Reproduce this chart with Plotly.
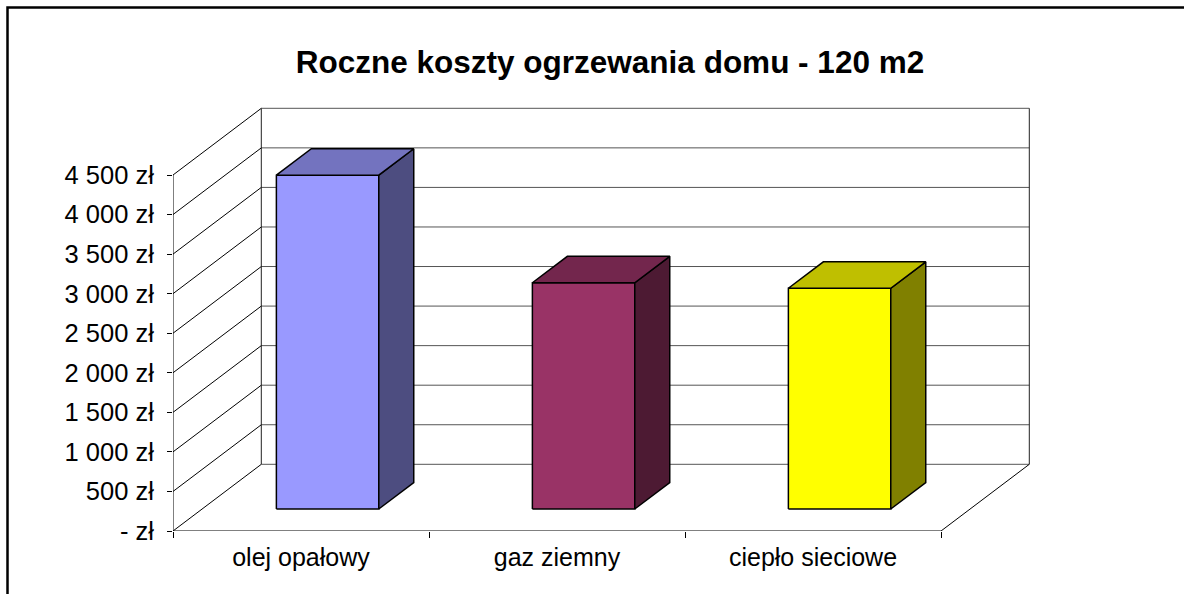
import plotly.graph_objects as go

# ---- data ----
categories = ["olej opałowy", "gaz ziemny", "ciepło sieciowe"]
values = [4220, 2860, 2790]
front_colors = ["#9999FF", "#993366", "#FFFF00"]
top_colors = ["#7373BF", "#73264D", "#BFBF00"]
side_colors = ["#4D4D80", "#4D1A33", "#808000"]
y_tickvals = [0, 500, 1000, 1500, 2000, 2500, 3000, 3500, 4000, 4500]
y_ticktext = ["- zł", "500 zł", "1 000 zł", "1 500 zł", "2 000 zł",
              "2 500 zł", "3 000 zł", "3 500 zł", "4 000 zł", "4 500 zł"]
title_text = "Roczne koszty ogrzewania domu - 120 m2"

# ---- layout geometry ----
W, H = 1184, 594
ML, MB, MT, MR = 173, 63, 0, 0
PX_PER_CAT = 256.0
PX_PER_VAL = 356.0 / 4500.0
X_RANGE = [0, (W - ML - MR) / PX_PER_CAT]
Y_RANGE = [0, (H - MB - MT) / PX_PER_VAL]
DX = 88.3 / PX_PER_CAT       # depth shift in category units
DY = 66.7 / PX_PER_VAL       # depth shift in value units
N = len(categories)
VMAX = y_tickvals[-1]
GAP_LEFT, BAR_W = 0.29, 0.40
Z0, Z1 = 0.33, 0.726

def P(x, y, z):
    return x + z * DX, y + z * DY

fig = go.Figure()

def lines(segs, color, width):
    xs, ys = [], []
    for (a, b) in segs:
        xs += [a[0], b[0], None]
        ys += [a[1], b[1], None]
    fig.add_trace(go.Scatter(x=xs, y=ys, mode="lines",
                             line=dict(color=color, width=width),
                             hoverinfo="skip", showlegend=False))

# back wall gridlines
lines([(P(0, v, 1), P(N, v, 1)) for v in y_tickvals], "#555555", 1)
# back wall verticals
lines([(P(0, 0, 1), P(0, VMAX, 1)), (P(N, 0, 1), P(N, VMAX, 1))], "#222222", 1)
# left wall diagonals
lines([(P(0, v, 0), P(0, v, 1)) for v in y_tickvals], "#000000", 1)
# floor edges and front axis
lines([(P(0, 0, 0), P(N, 0, 0)), (P(N, 0, 0), P(N, 0, 1)),
       (P(0, 0, 0), P(0, VMAX, 0))], "#000000", 1)

# bars
for i, v in enumerate(values):
    x0 = i + GAP_LEFT
    x1 = x0 + BAR_W
    faces = [
        ([P(x0, 0, Z0), P(x1, 0, Z0), P(x1, v, Z0), P(x0, v, Z0)], front_colors[i]),
        ([P(x1, 0, Z0), P(x1, 0, Z1), P(x1, v, Z1), P(x1, v, Z0)], side_colors[i]),
        ([P(x0, v, Z0), P(x1, v, Z0), P(x1, v, Z1), P(x0, v, Z1)], top_colors[i]),
    ]
    for pts, col in faces:
        xs = [p[0] for p in pts] + [pts[0][0]]
        ys = [p[1] for p in pts] + [pts[0][1]]
        fig.add_trace(go.Scatter(x=xs, y=ys, mode="lines", fill="toself",
                                 fillcolor=col, line=dict(color="#000000", width=1.5),
                                 hoverinfo="skip", showlegend=False))

def paper_x(px):
    return (px - ML) / (W - ML - MR)

def paper_y(py):
    return (H - MB - py) / (H - MB - MT)

fig.add_shape(type="rect", xref="paper", yref="paper",
              x0=paper_x(7.5), x1=paper_x(1195), y0=paper_y(7.5), y1=paper_y(610),
              line=dict(color="#000000", width=2.5), fillcolor="rgba(0,0,0,0)")

font = "Liberation Sans, Arial, sans-serif"
fig.update_layout(
    width=W, height=H,
    margin=dict(l=ML, r=MR, t=MT, b=MB, pad=0),
    paper_bgcolor="white", plot_bgcolor="white",
    showlegend=False,
    title=dict(text=title_text, x=610 / W, xanchor="center", xref="container",
               y=1 - 62 / H, yanchor="middle", yref="container",
               font=dict(family=font, size=31.5, color="black", weight=700)),
    xaxis=dict(range=X_RANGE, tickvals=[i + 0.5 for i in range(N)], ticktext=categories,
               ticks="outside", ticklen=0, showgrid=False, zeroline=False, showline=False,
               tickfont=dict(family=font, size=25, color="black"),
               ticklabelstandoff=4,
               minor=dict(tickvals=list(range(N + 1)), ticks="outside", ticklen=6,
                          tickcolor="black", tickwidth=1, showgrid=False),
               fixedrange=True),
    yaxis=dict(range=Y_RANGE, tickvals=y_tickvals, ticktext=y_ticktext,
               ticks="outside", ticklen=5, tickcolor="black", tickwidth=1,
               showgrid=False, zeroline=False, showline=False,
               tickfont=dict(family=font, size=25.5, color="black"),
               ticklabelstandoff=8, fixedrange=True),
)

fig.write_html("out.html", config={"displayModeBar": False},
               post_script="document.body.style.margin='0';document.body.style.overflow='hidden';")
